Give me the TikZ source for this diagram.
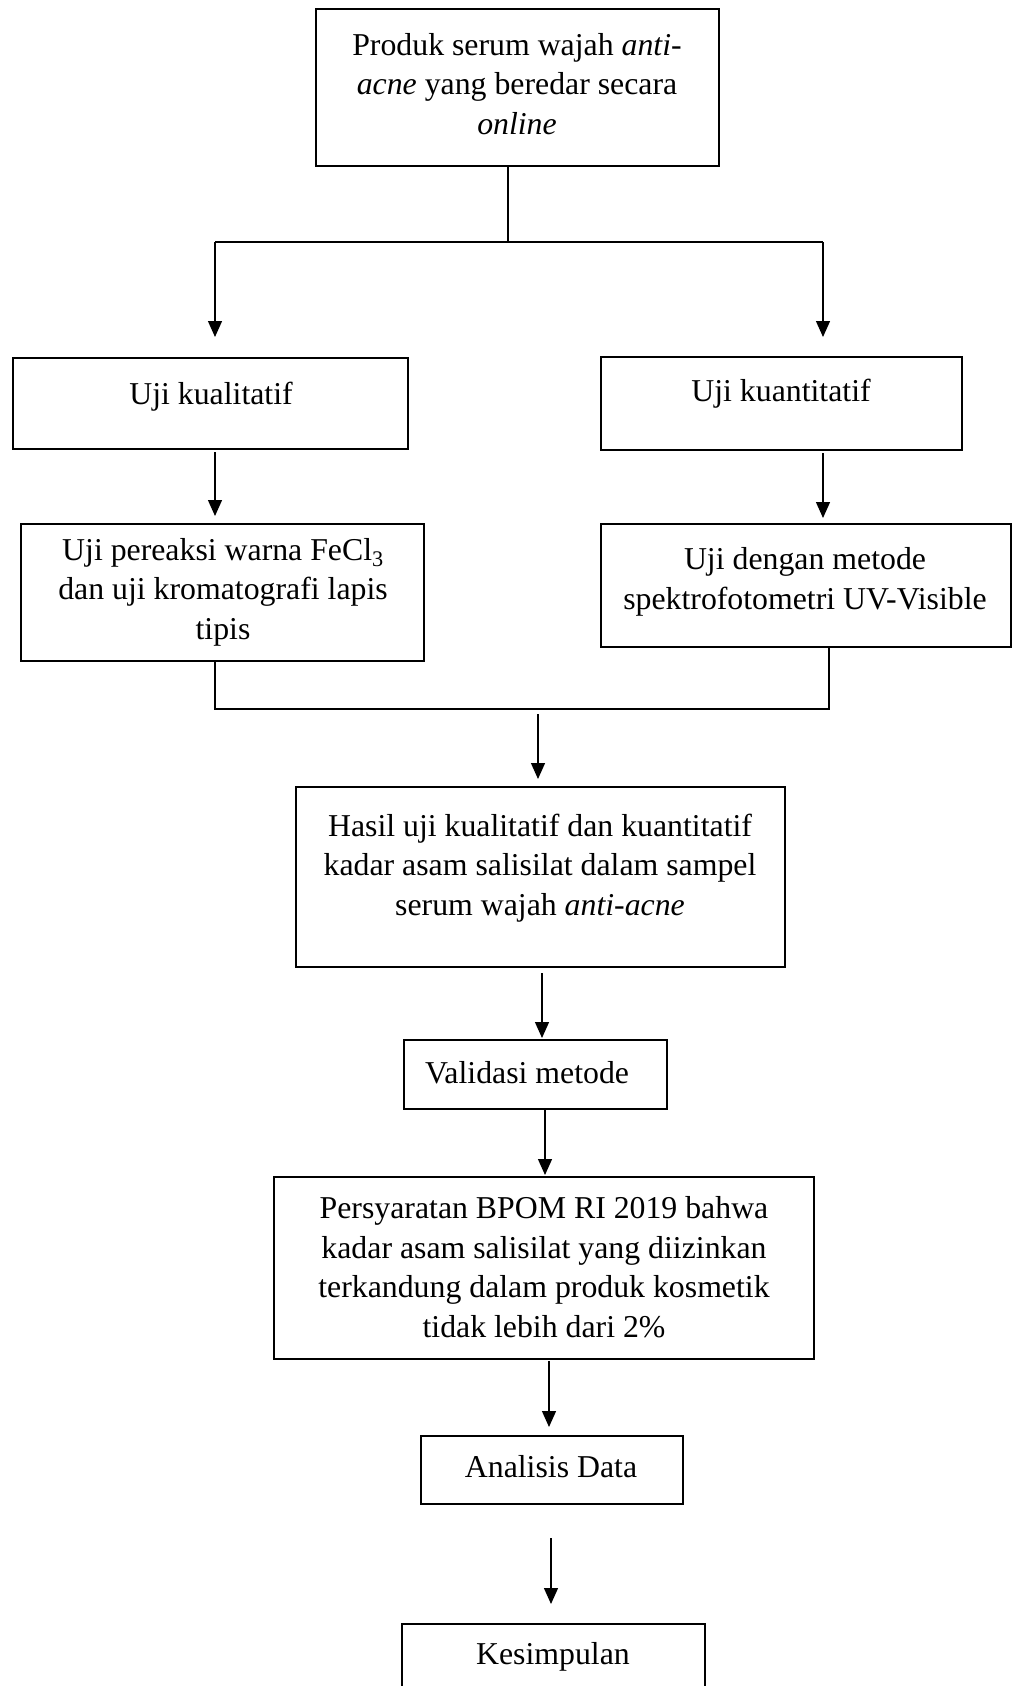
\documentclass[tikz,border=0pt]{standalone}
\usepackage{fontspec}
\setmainfont{Liberation Serif}
\usetikzlibrary{arrows.meta}
\begin{document}
\begin{tikzpicture}[x=1pt,y=-1pt,
  box/.style={draw, line width=1.4pt, rectangle, inner sep=0pt},
  txt/.style={align=center, inner sep=0pt, font=\fontsize{31.8}{39.5}\selectfont},
  conn/.style={line width=1.3pt},
  arr/.style={conn, -{Triangle[length=16pt,width=14pt]}}]
\clip (0,0) rectangle (1013,1686);
\fill[white] (0,0) rectangle (1013,1686);

% boxes
\node[box, minimum width=403pt, minimum height=157pt] (top) at (517.5,87.5) {};
\node[box, minimum width=395pt, minimum height=91pt] (kual) at (210.5,403.5) {};
\node[box, minimum width=361pt, minimum height=93pt] (kuant) at (781.5,403.5) {};
\node[box, minimum width=403pt, minimum height=137pt] (pere) at (222.5,592.5) {};
\node[box, minimum width=410pt, minimum height=123pt] (meto) at (806,585.5) {};
\node[box, minimum width=489pt, minimum height=180pt] (hasil) at (540.5,877) {};
\node[box, minimum width=263pt, minimum height=69pt] (vali) at (535.5,1074.5) {};
\node[box, minimum width=540pt, minimum height=182pt] (pers) at (544,1268) {};
\node[box, minimum width=262pt, minimum height=68pt] (anal) at (552,1470) {};
\node[box, minimum width=303pt, minimum height=100pt] (kesi) at (553.5,1674) {};

% texts
\node[txt] (ttop) at (517,84) {Produk serum wajah \textit{anti-}\\\textit{acne} yang beredar secara\\\textit{online}};
\node[txt] (tkual) at (211,397) {Uji kualitatif};
\node[txt] (tkuant) at (781,394) {Uji kuantitatif};
\node[txt] (tpere) at (223,592) {Uji pereaksi warna FeCl\textsubscript{3}\\dan uji kromatografi lapis\\tipis};
\node[txt] (tmeto) at (805,582) {Uji dengan metode\\spektrofotometri UV-Visible};
\node[txt] (thasil) at (540,868) {Hasil uji kualitatif dan kuantitatif\\kadar asam salisilat dalam sampel\\serum wajah \textit{anti-acne}};
\node[txt] (tvali) at (527,1073) {Validasi metode};
\node[txt] (tpers) at (544,1267) {Persyaratan BPOM RI 2019 bahwa\\kadar asam salisilat yang diizinkan\\terkandung dalam produk kosmetik\\tidak lebih dari 2\%};
\node[txt] (tanal) at (551,1467) {Analisis Data};
\node[txt] (tkesi) at (553,1657) {Kesimpulan};

% junction coordinates
\coordinate (j1) at (508,242);
\coordinate (jl) at (215,242);
\coordinate (jr) at (823,242);
\coordinate (kualin) at (215,337);
\coordinate (kuantin) at (823,337);
\coordinate (pereout) at (215,452);
\coordinate (perein) at (215,516);
\coordinate (metoout) at (823,453);
\coordinate (metoin) at (823,518);
\coordinate (bl) at (215,709);
\coordinate (br) at (829,709);
\coordinate (hs) at (538,714);
\coordinate (hasilin) at (538,779);
\coordinate (hasilout) at (542,973);
\coordinate (valiin) at (542,1038);
\coordinate (valiout) at (545,1109);
\coordinate (persin) at (545,1175);
\coordinate (persout) at (549,1361);
\coordinate (analin) at (549,1427);
\coordinate (analout) at (551,1538);
\coordinate (kesiin) at (551,1604);

% connectors
\draw[conn] (top.south -| j1) -- (j1);
\draw[conn] (jl) -- (jr);
\draw[arr] (jl) -- (kualin);
\draw[arr] (jr) -- (kuantin);
\draw[arr] (pereout) -- (perein);
\draw[arr] (metoout) -- (metoin);
\draw[conn] (pere.south -| bl) -- (bl) -- (br) -- (meto.south -| br);
\draw[arr] (hs) -- (hasilin);
\draw[arr] (hasilout) -- (valiin);
\draw[arr] (valiout) -- (persin);
\draw[arr] (persout) -- (analin);
\draw[arr] (analout) -- (kesiin);
\end{tikzpicture}
\end{document}
